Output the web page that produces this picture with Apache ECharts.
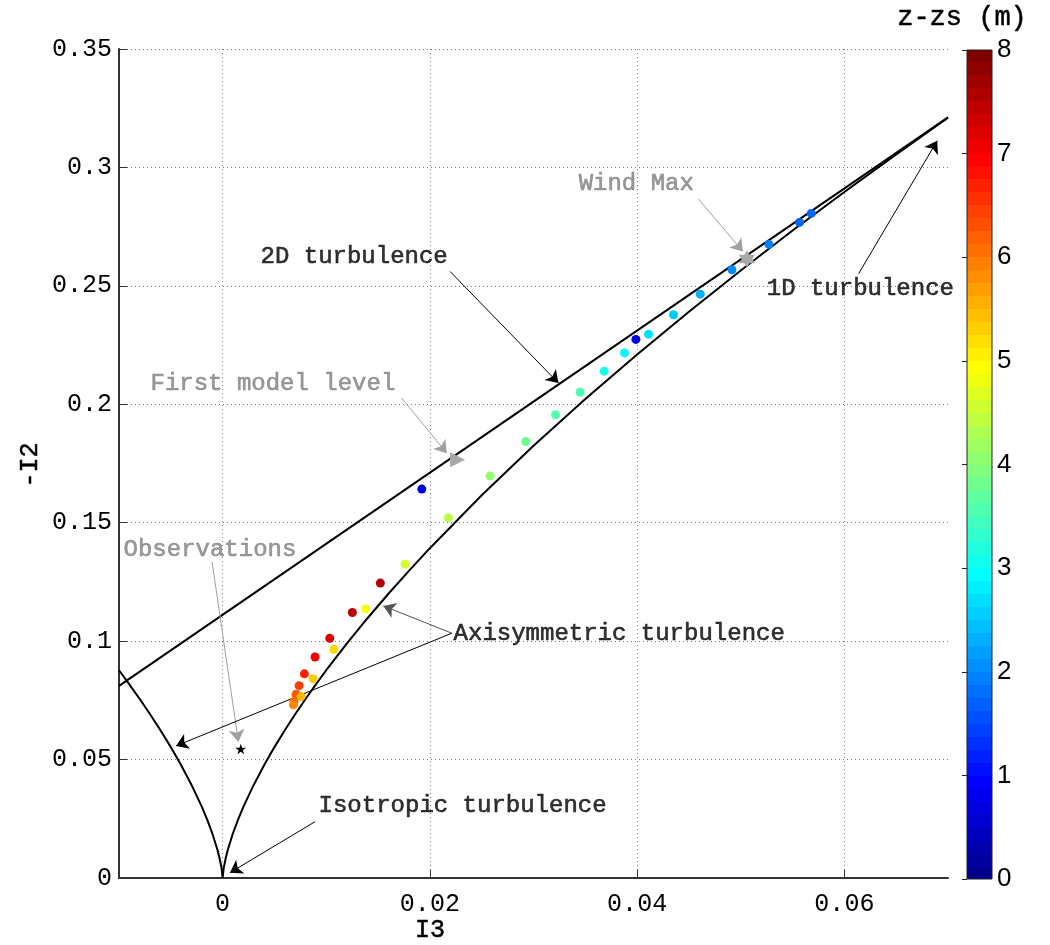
<!DOCTYPE html>
<html><head><meta charset="utf-8">
<script src="https://cdn.jsdelivr.net/npm/echarts@6/dist/echarts.min.js"></script>
<style>html,body{margin:0;padding:0;background:#fff}#chart{width:1050px;height:945px}</style>
</head><body><div id="chart"></div><script>
// ---- Lumley triangle boundaries ----
const axiI3 = [-0.010,-0.009,-0.008,-0.007,-0.006,-0.005,-0.004,-0.003,-0.002,-0.0015,-0.001,-0.0005,-0.0003,-0.0001,0,
  0.0001,0.0003,0.0005,0.001,0.0015,0.002,0.003,0.004,0.005,0.006,0.007,0.008,0.009,0.010,
  0.012,0.014,0.016,0.018,0.020,0.025,0.030,0.035,0.040,0.045,0.050,0.055,0.060,0.065,0.070];
const axiNegI2 = [0.08772,0.08177,0.07559,0.06916,0.0624,0.05526,0.04762,0.0393,0.03,0.02476,0.0189,0.01191,0.00847,0.00407,0,
  0.00407,0.00847,0.01191,0.0189,0.02476,0.03,0.0393,0.04762,0.05526,0.0624,0.06916,0.07559,0.08177,0.08772,
  0.09906,0.10978,0.12,0.1298,0.13925,0.16158,0.18247,0.20223,0.22104,0.2391,0.2565,0.27336,0.28965,0.30552,0.321];
const twoDI3 = [-0.01, 0.07];
const twoDNegI2 = [0.08111, 0.32111];

// ---- model points (colour = z-zs in m) ----
const ptI3 = [0.0568,0.05567,0.05272,0.04915,0.04609,0.04351,0.0411,0.03988,0.03878,0.03682,0.0345,0.03212,0.02926,0.02581,0.02179,0.01922,0.01761,0.01522,0.01381,0.01252,0.01034,0.01073,0.00892,0.00789,0.00873,0.00738,0.00709,0.00757,0.00689,0.00683];
const ptNegI2 = [0.2806,0.2768,0.2675,0.2568,0.2465,0.2378,0.2296,0.2274,0.2217,0.2140,0.2051,0.1956,0.1843,0.1697,0.1521,0.1642,0.1325,0.1245,0.1136,0.1121,0.1012,0.0966,0.0933,0.0862,0.0841,0.0812,0.0776,0.0766,0.0745,0.0731];
const ptZ = [1.7,1.7,1.9,2.0,2.3,2.5,2.7,0.65,2.9,3.1,3.5,3.6,3.8,4.1,4.4,0.7,4.6,7.6,4.9,7.5,7.25,5.25,7.05,6.75,5.35,6.5,6.3,5.5,6.1,5.9];

// ---- special markers ----
const obsPoint = [0.00175, 0.05448];
const firstLevelPoint = [0.02268, 0.17654];
const windMaxPoint = [0.0506, 0.2613];

// ---- axes ----
const xTicks = [0, 0.02, 0.04, 0.06];
const zRange = [0, 8];

// ---- annotations ----
const annTexts = ['2D turbulence','Wind Max','1D turbulence','First model level','Observations','Axisymmetric turbulence','Isotropic turbulence'];
const annTextAt = [[0.00361,0.26228],[0.03431,0.29311],[0.05246,0.24877],[-0.00701,0.20864],[-0.00961,0.13853],[0.02224,0.10305],[0.00921,0.03041]];
const annArrows = [
  [0.02195,0.25607,0.03241,0.20894],
  [0.04592,0.28665,0.05021,0.26452],
  [0.06137,0.2551,0.06896,0.31127],
  [0.01729,0.2026,0.02163,0.17937],
  [-0.00102,0.13346,0.00152,0.05757],
  [0.02212,0.10335,0.01551,0.11488],
  [0.02212,0.10335,-0.0045,0.05575],
  [0.00892,0.02378,0.00071,0.00224]
];
const annTextColors = ['#000','#7f7f7f','#000','#7f7f7f','#7f7f7f','#000','#000'];
const annArrowColors = ['#000','#a0a0a0','#000','#a0a0a0','#a0a0a0','#555','#000','#000'];

function clamp(v){return Math.max(0, Math.min(1, v));}
function jet(t){
  const r = clamp(1.5 - Math.abs(4*t-3)), g = clamp(1.5 - Math.abs(4*t-2)), b = clamp(1.5 - Math.abs(4*t-1));
  return 'rgb(' + Math.round(r*255) + ',' + Math.round(g*255) + ',' + Math.round(b*255) + ')';
}
const jet64 = [];
for (let i = 0; i < 64; i++) jet64.push(jet((i+1)/64));

const FONT = 'Liberation Mono';
const chart = echarts.init(document.getElementById('chart'), null, {renderer:'canvas'});

const gridLine = {show:true, lineStyle:{type:[1,3], color:'#7a7a7a', width:1}};
const axisLineStyle = {color:'#333', width:2};

const option = {
  animation:false,
  backgroundColor:'#fff',
  grid:[
    {left:119, top:49, width:829, height:829},
    {left:967, top:50, width:25, height:829}
  ],
  xAxis:[
    {gridIndex:0, type:'value', min:-0.01, max:0.07,
     axisLine:{show:true, onZero:false, lineStyle:axisLineStyle},
     axisTick:{show:true, inside:true, length:8, customValues:xTicks, lineStyle:{color:'#333'}},
     axisLabel:{customValues:xTicks, margin:14, fontFamily:FONT, fontSize:25, color:'#000'},
     splitLine:gridLine},
    {gridIndex:1, type:'value', min:0, max:1, show:false}
  ],
  yAxis:[
    {gridIndex:0, type:'value', min:0, max:0.35, interval:0.05,
     axisLine:{show:true, onZero:false, lineStyle:axisLineStyle},
     axisTick:{show:true, inside:true, length:8, lineStyle:{color:'#333'}},
     axisLabel:{margin:7, fontFamily:FONT, fontSize:25, color:'#000'},
     splitLine:gridLine},
    {gridIndex:1, type:'value', min:zRange[0], max:zRange[1], interval:1, position:'right',
     axisLine:{show:false},
     axisTick:{show:true, inside:true, length:5, lineStyle:{color:'#222'}},
     axisLabel:{margin:5, fontFamily:'Liberation Sans', fontSize:26, color:'#000'},
     splitLine:{show:false}}
  ],
  visualMap:[{show:false, type:'continuous', min:zRange[0], max:zRange[1], dimension:2, seriesIndex:2, inRange:{color:jet64}}],
  graphic:[
    {type:'text', x:430, y:930, style:{text:'I3', font:'25px "Liberation Mono"', fill:'#000', stroke:'#000', lineWidth:0.5, textAlign:'center', textVerticalAlign:'middle'}},
    {type:'text', x:30, y:465, rotation:Math.PI/2, style:{text:'-I2', font:'25px "Liberation Mono"', fill:'#000', stroke:'#000', lineWidth:0.5, textAlign:'center', textVerticalAlign:'middle'}},
    {type:'text', x:962, y:18, style:{text:'z-zs (m)', font:'27px "Liberation Mono"', fill:'#000', stroke:'#000', lineWidth:0.5, textAlign:'center', textVerticalAlign:'middle'}}
  ],
  series:[
    {type:'line', xAxisIndex:0, yAxisIndex:0, data:axiI3.map((x,i)=>[x, axiNegI2[i]]), showSymbol:false, symbol:'none',
     lineStyle:{color:'#000', width:2}, silent:true, z:2},
    {type:'line', xAxisIndex:0, yAxisIndex:0, data:twoDI3.map((x,i)=>[x, twoDNegI2[i]]), showSymbol:false, symbol:'none',
     lineStyle:{color:'#000', width:2}, silent:true, z:2},
    {type:'scatter', xAxisIndex:0, yAxisIndex:0, data:ptI3.map((x,i)=>[x, ptNegI2[i], ptZ[i]]), symbolSize:9, itemStyle:{opacity:1}, z:5},
    {type:'scatter', xAxisIndex:0, yAxisIndex:0, data:[obsPoint], symbol:'path://M0,-10 L2.245,-3.09 L9.51,-3.09 L3.633,1.18 L5.88,8.09 L0,3.82 L-5.88,8.09 L-3.633,1.18 L-9.51,-3.09 L-2.245,-3.09 Z',
     symbolSize:[11,10.5], itemStyle:{color:'#000', opacity:1}, z:5},
    {type:'scatter', xAxisIndex:0, yAxisIndex:0, data:[firstLevelPoint], symbol:'path://M0,0 L10,5 L0,10 Z',
     symbolSize:[15,15], itemStyle:{color:'#a8a8a8', opacity:1}, z:5},
    {type:'scatter', xAxisIndex:0, yAxisIndex:0, data:[windMaxPoint], symbol:'path://M0,-10 L2.887,-5 L8.66,-5 L5.774,0 L8.66,5 L2.887,5 L0,10 L-2.887,5 L-8.66,5 L-5.774,0 L-8.66,-5 L-2.887,-5 Z',
     symbolSize:[16,17], itemStyle:{color:'#a8a8a8', opacity:1}, z:5},
    {type:'lines', coordinateSystem:'cartesian2d', xAxisIndex:0, yAxisIndex:0, symbol:['none','arrow'], symbolSize:[0,12],
     data:annArrows.map((a,i)=>({coords:[[a[0],a[1]],[a[2],a[3]]], lineStyle:{color:annArrowColors[i]}})),
     lineStyle:{width:1, opacity:1, curveness:0}, silent:true, z:4},
    {type:'scatter', xAxisIndex:0, yAxisIndex:0, symbolSize:1, itemStyle:{color:'transparent'}, clip:false, silent:true, z:6,
     data:annTexts.map((t,i)=>({name:t, value:annTextAt[i], label:{color:annTextColors[i], textBorderColor:annTextColors[i]}})),
     label:{show:true, position:'right', distance:0, formatter:'{b}', fontFamily:FONT, fontSize:24, align:'left', verticalAlign:'middle', textBorderWidth:0.6}},
    {type:'custom', xAxisIndex:1, yAxisIndex:1, data:[[zRange[0], zRange[1]]], silent:true, clip:false,
     renderItem:function(params, api){
       const p0 = api.coord([0, api.value(0)]);
       const p1 = api.coord([1, api.value(1)]);
       const stops = [];
       for (let i = 0; i < 64; i++){ stops.push({offset:i/64, color:jet64[i]}); stops.push({offset:(i+1)/64, color:jet64[i]}); }
       return {type:'rect', shape:{x:p0[0], y:p1[1], width:p1[0]-p0[0], height:p0[1]-p1[1]},
         style:{fill:new echarts.graphic.LinearGradient(0,1,0,0,stops), stroke:'#222', lineWidth:1}};
     }}
  ]
};
chart.setOption(option);
</script></body></html>
